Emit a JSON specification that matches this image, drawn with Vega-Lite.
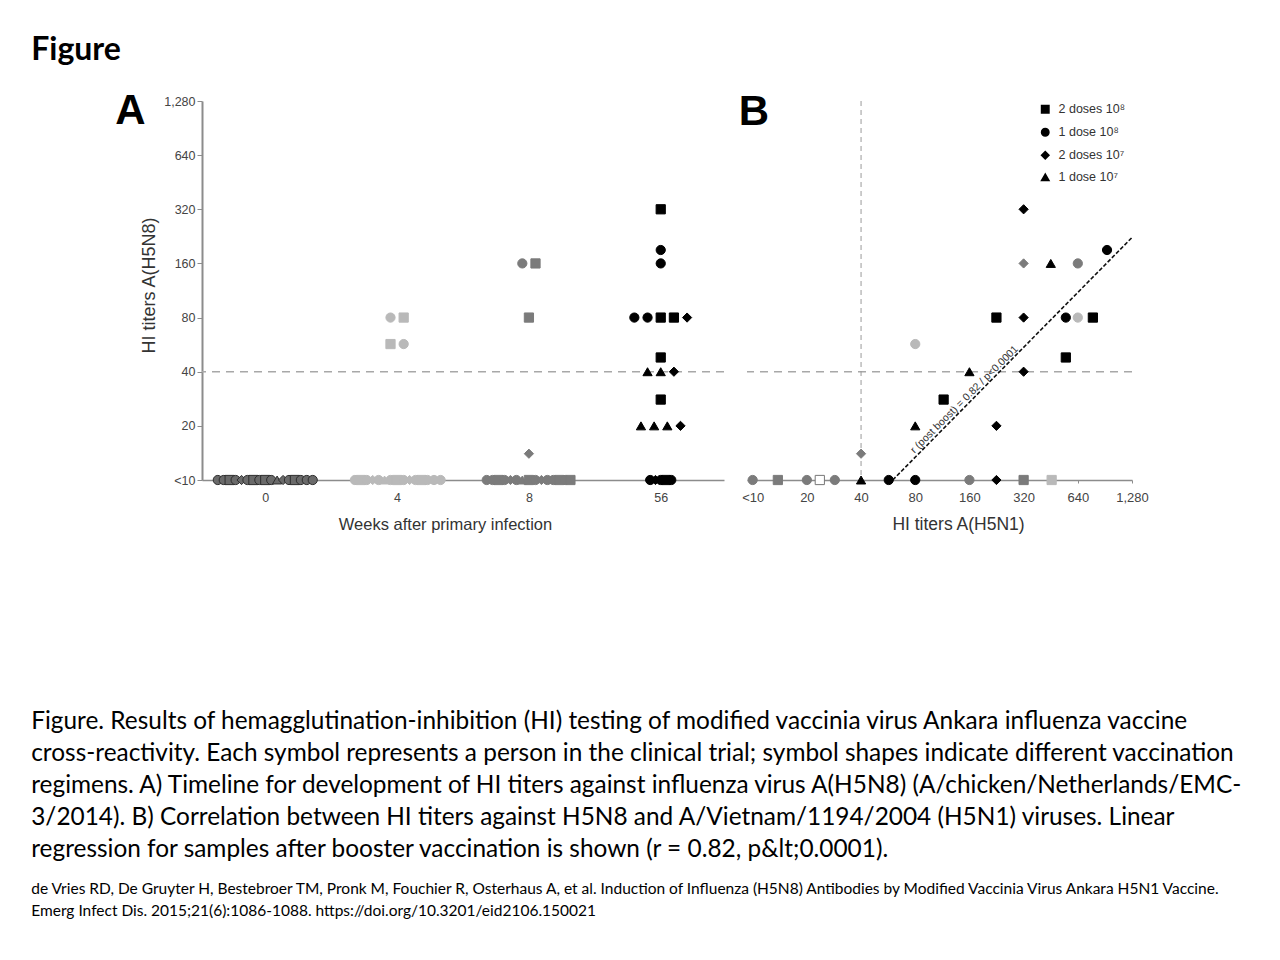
{
  "$schema": "https://vega.github.io/schema/vega-lite/v6.json",
  "background": "white",
  "padding": {"left": 31, "top": 34, "right": 0, "bottom": 0},
  "autosize": {"type": "pad"},
  "title": {"text": "Figure", "anchor": "start", "font": "Lato", "fontSize": 32, "fontWeight": "bold", "color": "#000", "offset": 23},
  "datasets": {
    "A": [
      {"w":"0","xp":-0.36,"v":10,"g":"1 dose 10⁸","t":"0"},
      {"w":"0","xp":-0.315,"v":10,"g":"1 dose 10⁸","t":"0"},
      {"w":"0","xp":-0.27,"v":10,"g":"2 doses 10⁸","t":"0"},
      {"w":"0","xp":-0.225,"v":10,"g":"1 dose 10⁸","t":"0"},
      {"w":"0","xp":-0.18,"v":10,"g":"2 doses 10⁷","t":"0"},
      {"w":"0","xp":-0.135,"v":10,"g":"1 dose 10⁸","t":"0"},
      {"w":"0","xp":-0.09,"v":10,"g":"2 doses 10⁸","t":"0"},
      {"w":"0","xp":-0.045,"v":10,"g":"1 dose 10⁸","t":"0"},
      {"w":"0","xp":0,"v":10,"g":"2 doses 10⁸","t":"0"},
      {"w":"0","xp":0.045,"v":10,"g":"1 dose 10⁸","t":"0"},
      {"w":"0","xp":0.09,"v":10,"g":"1 dose 10⁷","t":"0"},
      {"w":"0","xp":0.135,"v":10,"g":"2 doses 10⁷","t":"0"},
      {"w":"0","xp":0.18,"v":10,"g":"1 dose 10⁸","t":"0"},
      {"w":"0","xp":0.225,"v":10,"g":"2 doses 10⁸","t":"0"},
      {"w":"0","xp":0.27,"v":10,"g":"1 dose 10⁸","t":"0"},
      {"w":"0","xp":0.315,"v":10,"g":"1 dose 10⁸","t":"0"},
      {"w":"0","xp":0.36,"v":10,"g":"1 dose 10⁸","t":"0"},
      {"w":"4","xp":0.68,"v":10,"g":"1 dose 10⁸","t":"4"},
      {"w":"4","xp":0.725,"v":10,"g":"2 doses 10⁸","t":"4"},
      {"w":"4","xp":0.77,"v":10,"g":"1 dose 10⁸","t":"4"},
      {"w":"4","xp":0.815,"v":10,"g":"2 doses 10⁷","t":"4"},
      {"w":"4","xp":0.86,"v":10,"g":"1 dose 10⁸","t":"4"},
      {"w":"4","xp":0.905,"v":10,"g":"1 dose 10⁷","t":"4"},
      {"w":"4","xp":0.95,"v":10,"g":"1 dose 10⁸","t":"4"},
      {"w":"4","xp":1,"v":10,"g":"2 doses 10⁸","t":"4"},
      {"w":"4","xp":1.05,"v":10,"g":"1 dose 10⁸","t":"4"},
      {"w":"4","xp":1.095,"v":10,"g":"2 doses 10⁷","t":"4"},
      {"w":"4","xp":1.14,"v":10,"g":"1 dose 10⁸","t":"4"},
      {"w":"4","xp":1.185,"v":10,"g":"2 doses 10⁸","t":"4"},
      {"w":"4","xp":1.23,"v":10,"g":"1 dose 10⁸","t":"4"},
      {"w":"4","xp":1.28,"v":10,"g":"1 dose 10⁸","t":"4"},
      {"w":"4","xp":1.33,"v":10,"g":"1 dose 10⁸","t":"4"},
      {"w":"4","xp":0.95,"v":80,"g":"1 dose 10⁸","t":"4"},
      {"w":"4","xp":1.05,"v":80,"g":"2 doses 10⁸","t":"4"},
      {"w":"4","xp":0.95,"v":57,"g":"2 doses 10⁸","t":"4"},
      {"w":"4","xp":1.05,"v":57,"g":"1 dose 10⁸","t":"4"},
      {"w":"8","xp":1.68,"v":10,"g":"1 dose 10⁸","t":"8"},
      {"w":"8","xp":1.725,"v":10,"g":"1 dose 10⁸","t":"8"},
      {"w":"8","xp":1.77,"v":10,"g":"2 doses 10⁸","t":"8"},
      {"w":"8","xp":1.815,"v":10,"g":"1 dose 10⁸","t":"8"},
      {"w":"8","xp":1.86,"v":10,"g":"2 doses 10⁷","t":"8"},
      {"w":"8","xp":1.905,"v":10,"g":"1 dose 10⁸","t":"8"},
      {"w":"8","xp":1.95,"v":10,"g":"1 dose 10⁷","t":"8"},
      {"w":"8","xp":2,"v":10,"g":"2 doses 10⁸","t":"8"},
      {"w":"8","xp":2.05,"v":10,"g":"1 dose 10⁸","t":"8"},
      {"w":"8","xp":2.095,"v":10,"g":"2 doses 10⁷","t":"8"},
      {"w":"8","xp":2.14,"v":10,"g":"1 dose 10⁸","t":"8"},
      {"w":"8","xp":2.185,"v":10,"g":"1 dose 10⁸","t":"8"},
      {"w":"8","xp":2.23,"v":10,"g":"2 doses 10⁸","t":"8"},
      {"w":"8","xp":2.275,"v":10,"g":"1 dose 10⁸","t":"8"},
      {"w":"8","xp":2.315,"v":10,"g":"2 doses 10⁸","t":"8"},
      {"w":"8","xp":1.95,"v":160,"g":"1 dose 10⁸","t":"8"},
      {"w":"8","xp":2.05,"v":160,"g":"2 doses 10⁸","t":"8"},
      {"w":"8","xp":2,"v":80,"g":"2 doses 10⁸","t":"8"},
      {"w":"8","xp":2,"v":14,"g":"2 doses 10⁷","t":"8"},
      {"w":"56","xp":2.92,"v":10,"g":"1 dose 10⁸","t":"56"},
      {"w":"56","xp":2.96,"v":10,"g":"2 doses 10⁷","t":"56"},
      {"w":"56","xp":3,"v":10,"g":"1 dose 10⁸","t":"56"},
      {"w":"56","xp":3.04,"v":10,"g":"2 doses 10⁸","t":"56"},
      {"w":"56","xp":3.08,"v":10,"g":"1 dose 10⁸","t":"56"},
      {"w":"56","xp":3,"v":320,"g":"2 doses 10⁸","t":"56"},
      {"w":"56","xp":3,"v":190,"g":"1 dose 10⁸","t":"56"},
      {"w":"56","xp":3,"v":160,"g":"1 dose 10⁸","t":"56"},
      {"w":"56","xp":2.8,"v":80,"g":"1 dose 10⁸","t":"56"},
      {"w":"56","xp":2.9,"v":80,"g":"1 dose 10⁸","t":"56"},
      {"w":"56","xp":3,"v":80,"g":"2 doses 10⁸","t":"56"},
      {"w":"56","xp":3.1,"v":80,"g":"2 doses 10⁸","t":"56"},
      {"w":"56","xp":3.2,"v":80,"g":"2 doses 10⁷","t":"56"},
      {"w":"56","xp":3,"v":48,"g":"2 doses 10⁸","t":"56"},
      {"w":"56","xp":2.9,"v":40,"g":"1 dose 10⁷","t":"56"},
      {"w":"56","xp":3,"v":40,"g":"1 dose 10⁷","t":"56"},
      {"w":"56","xp":3.1,"v":40,"g":"2 doses 10⁷","t":"56"},
      {"w":"56","xp":3,"v":28,"g":"2 doses 10⁸","t":"56"},
      {"w":"56","xp":2.85,"v":20,"g":"1 dose 10⁷","t":"56"},
      {"w":"56","xp":2.95,"v":20,"g":"1 dose 10⁷","t":"56"},
      {"w":"56","xp":3.05,"v":20,"g":"1 dose 10⁷","t":"56"},
      {"w":"56","xp":3.15,"v":20,"g":"2 doses 10⁷","t":"56"}
    ],
    "B": [
      {"x":10,"y":10,"g":"1 dose 10⁸","t":"8"},
      {"x":13.8,"y":10,"g":"2 doses 10⁸","t":"8"},
      {"x":20,"y":10,"g":"1 dose 10⁸","t":"8"},
      {"x":23.6,"y":10,"g":"2 doses 10⁸","t":"open"},
      {"x":28.6,"y":10,"g":"1 dose 10⁸","t":"8"},
      {"x":40,"y":10,"g":"1 dose 10⁷","t":"56"},
      {"x":57,"y":10,"g":"1 dose 10⁸","t":"56"},
      {"x":80,"y":10,"g":"1 dose 10⁸","t":"56"},
      {"x":160,"y":10,"g":"1 dose 10⁸","t":"8"},
      {"x":226,"y":10,"g":"2 doses 10⁷","t":"56"},
      {"x":320,"y":10,"g":"2 doses 10⁸","t":"8"},
      {"x":458,"y":10,"g":"2 doses 10⁸","t":"4"},
      {"x":40,"y":14,"g":"2 doses 10⁷","t":"8"},
      {"x":80,"y":20,"g":"1 dose 10⁷","t":"56"},
      {"x":115,"y":28,"g":"2 doses 10⁸","t":"56"},
      {"x":160,"y":40,"g":"1 dose 10⁷","t":"56"},
      {"x":320,"y":40,"g":"2 doses 10⁷","t":"56"},
      {"x":226,"y":20,"g":"2 doses 10⁷","t":"56"},
      {"x":80,"y":57,"g":"1 dose 10⁸","t":"4"},
      {"x":549,"y":48,"g":"2 doses 10⁸","t":"56"},
      {"x":226,"y":80,"g":"2 doses 10⁸","t":"56"},
      {"x":320,"y":80,"g":"2 doses 10⁷","t":"56"},
      {"x":549,"y":80,"g":"1 dose 10⁸","t":"56"},
      {"x":640,"y":80,"g":"1 dose 10⁸","t":"4"},
      {"x":776,"y":80,"g":"2 doses 10⁸","t":"56"},
      {"x":320,"y":160,"g":"2 doses 10⁷","t":"8"},
      {"x":453,"y":160,"g":"1 dose 10⁷","t":"56"},
      {"x":640,"y":160,"g":"1 dose 10⁸","t":"8"},
      {"x":320,"y":320,"g":"2 doses 10⁷","t":"56"},
      {"x":930,"y":190,"g":"1 dose 10⁸","t":"56"}
    ]
  },
  "vconcat": [
    {
      "title": {
        "text": [
          "Figure. Results of hemagglutination-inhibition (HI) testing of modified vaccinia virus Ankara influenza vaccine",
          "cross-reactivity. Each symbol represents a person in the clinical trial; symbol shapes indicate different vaccination",
          "regimens. A) Timeline for development of HI titers against influenza virus A(H5N8) (A/chicken/Netherlands/EMC-",
          "3/2014). B) Correlation between HI titers against H5N8 and A/Vietnam/1194/2004 (H5N1) viruses. Linear",
          "regression for samples after booster vaccination is shown (r = 0.82, p&lt;0.0001)."
        ],
        "subtitle": [
          "de Vries RD, De Gruyter H, Bestebroer TM, Pronk M, Fouchier R, Osterhaus A, et al. Induction of Influenza (H5N8) Antibodies by Modified Vaccinia Virus Ankara H5N1 Vaccine.",
          "Emerg Infect Dis. 2015;21(6):1086-1088. https://doi.org/10.3201/eid2106.150021"
        ],
        "orient": "bottom",
        "anchor": "start",
        "frame": "bounds",
        "dx": -84,
        "offset": 177,
        "font": "Lato",
        "fontSize": 24.4,
        "fontWeight": "normal",
        "lineHeight": 32,
        "color": "#000",
        "subtitleFont": "Lato",
        "subtitleFontSize": 15.5,
        "subtitleLineHeight": 22,
        "subtitlePadding": 20,
        "subtitleColor": "#000"
      },
      "spacing": 13,
      "resolve": {
        "scale": {"shape": "independent", "fill": "independent", "stroke": "independent"},
        "legend": {"shape": "independent", "fill": "independent", "stroke": "independent"}
      },
      "hconcat": [
        {
          "width": 522,
          "height": 379,
          "title": {"text": "A", "anchor": "start", "frame": "bounds", "font": "Liberation Sans", "fontSize": 42, "fontWeight": "bold", "color": "#000", "dx": -25, "offset": -38},
          "layer": [
            {
              "data": {"values": [{"v": 40}]},
              "mark": {"type": "rule", "color": "#a8a8a8", "strokeDash": [8, 6], "strokeWidth": 1.5},
              "encoding": {
                "y": {"field": "v", "type": "quantitative", "scale": {"type": "log", "base": 2, "domain": [10, 1280]},
                  "axis": {"title": "HI titers A(H5N8)", "values": [10, 20, 40, 80, 160, 320, 640, 1280], "labelExpr": "datum.value < 11 ? '<10' : format(datum.value, ',')", "labelFontSize": 12.5, "titleFontSize": 18, "tickSize": 5, "domainWidth": 2, "titlePadding": 5.5, "titleY": 184}}
              }
            },
            {
              "data": {"name": "A"},
              "mark": {"type": "point", "filled": true, "size": 85, "strokeWidth": 1, "opacity": 1},
              "encoding": {
                "x": {"field": "xp", "type": "quantitative",
                  "scale": {"domain": [-0.48, 3.48], "nice": false, "zero": false},
                  "axis": {"title": "Weeks after primary infection", "values": [0, 1, 2, 3], "labelExpr": "['0','4','8','56'][datum.value]", "labelFontSize": 12.5, "titleFontSize": 16.5, "tickSize": 3, "labelPadding": 8, "titlePadding": 13, "domainWidth": 1.5, "titleX": 243, "labelFlush": false}},
                "y": {"field": "v", "type": "quantitative",
                  "scale": {"type": "log", "base": 2, "domain": [10, 1280]},
                  "axis": {"title": "HI titers A(H5N8)", "values": [10, 20, 40, 80, 160, 320, 640, 1280], "labelExpr": "datum.value < 11 ? '<10' : format(datum.value, ',')", "labelFontSize": 12.5, "titleFontSize": 18, "tickSize": 5, "domainWidth": 2, "titlePadding": 5.5, "titleY": 184}},
                "shape": {"field": "g", "type": "nominal", "scale": {"domain": ["2 doses 10⁸", "1 dose 10⁸", "2 doses 10⁷", "1 dose 10⁷"], "range": ["square", "circle", "diamond", "triangle-up"]}, "legend": null},
                "fill": {"field": "t", "type": "nominal", "scale": {"domain": ["0", "4", "8", "56", "open"], "range": ["#6a6a6a", "#b9b9b9", "#7b7b7b", "#000000", "#ffffff"]}, "legend": null},
                "stroke": {"field": "t", "type": "nominal", "scale": {"domain": ["0", "4", "8", "56", "open"], "range": ["#2e2e2e", "#b9b9b9", "#7b7b7b", "#000000", "#777777"]}, "legend": null}
              }
            }
          ]
        },
        {
          "width": 385,
          "height": 379,
          "title": {"text": "B", "anchor": "start", "frame": "bounds", "font": "Liberation Sans", "fontSize": 42, "fontWeight": "bold", "color": "#000", "dx": -3, "offset": -33},
          "layer": [
            {
              "data": {"values": [{"y": 40}]},
              "mark": {"type": "rule", "color": "#a8a8a8", "strokeDash": [8, 6], "strokeWidth": 1.5},
              "encoding": {
                "y": {"field": "y", "type": "quantitative", "scale": {"type": "log", "base": 2, "domain": [10, 1280]}, "axis": null}
              }
            },
            {
              "data": {"values": [{"x": 40}]},
              "mark": {"type": "rule", "color": "#9a9a9a", "strokeDash": [5, 4], "strokeWidth": 1},
              "encoding": {
                "x": {"field": "x", "type": "quantitative", "scale": {"type": "log", "base": 2, "domain": [9.3, 1280]},
                  "axis": {"title": "HI titers A(H5N1)", "values": [10, 20, 40, 80, 160, 320, 640, 1280], "labelExpr": "datum.value < 11 ? '<10' : format(datum.value, ',')", "labelFontSize": 13, "titleFontSize": 17.5, "tickSize": 3, "labelPadding": 8, "titlePadding": 11, "domainWidth": 1.5, "titleX": 211, "labelFlush": false}}
              }
            },
            {
              "data": {"values": [{"x": 60, "y": 10}, {"x": 1280, "y": 223}]},
              "mark": {"type": "line", "color": "#111", "strokeDash": [4, 2], "strokeWidth": 1.6},
              "encoding": {
                "x": {"field": "x", "type": "quantitative", "scale": {"type": "log", "base": 2, "domain": [9.3, 1280]},
                  "axis": {"title": "HI titers A(H5N1)", "values": [10, 20, 40, 80, 160, 320, 640, 1280], "labelExpr": "datum.value < 11 ? '<10' : format(datum.value, ',')", "labelFontSize": 13, "titleFontSize": 17.5, "tickSize": 3, "labelPadding": 8, "titlePadding": 11, "domainWidth": 1.5, "titleX": 211, "labelFlush": false}},
                "y": {"field": "y", "type": "quantitative", "scale": {"type": "log", "base": 2, "domain": [10, 1280]}, "axis": null}
              }
            },
            {
              "data": {"values": [{"x": 150, "y": 28, "label": "r (post boost) = 0.82 / p<0.0001"}]},
              "mark": {"type": "text", "angle": 315, "font": "Liberation Sans", "fontSize": 10.5, "color": "#333", "align": "center", "baseline": "middle"},
              "encoding": {
                "x": {"field": "x", "type": "quantitative", "scale": {"type": "log", "base": 2, "domain": [9.3, 1280]},
                  "axis": {"title": "HI titers A(H5N1)", "values": [10, 20, 40, 80, 160, 320, 640, 1280], "labelExpr": "datum.value < 11 ? '<10' : format(datum.value, ',')", "labelFontSize": 13, "titleFontSize": 17.5, "tickSize": 3, "labelPadding": 8, "titlePadding": 11, "domainWidth": 1.5, "titleX": 211, "labelFlush": false}},
                "y": {"field": "y", "type": "quantitative", "scale": {"type": "log", "base": 2, "domain": [10, 1280]}, "axis": null},
                "text": {"field": "label", "type": "nominal"}
              }
            },
            {
              "data": {"name": "B"},
              "mark": {"type": "point", "filled": true, "size": 85, "strokeWidth": 1, "opacity": 1},
              "encoding": {
                "x": {"field": "x", "type": "quantitative",
                  "scale": {"type": "log", "base": 2, "domain": [9.3, 1280]},
                  "axis": {"title": "HI titers A(H5N1)", "values": [10, 20, 40, 80, 160, 320, 640, 1280], "labelExpr": "datum.value < 11 ? '<10' : format(datum.value, ',')", "labelFontSize": 13, "titleFontSize": 17.5, "tickSize": 3, "labelPadding": 8, "titlePadding": 11, "domainWidth": 1.5, "titleX": 211, "labelFlush": false}},
                "y": {"field": "y", "type": "quantitative", "scale": {"type": "log", "base": 2, "domain": [10, 1280]}, "axis": null},
                "shape": {"field": "g", "type": "nominal",
                  "scale": {"domain": ["2 doses 10⁸", "1 dose 10⁸", "2 doses 10⁷", "1 dose 10⁷"], "range": ["square", "circle", "diamond", "triangle-up"]},
                  "legend": {"orient": "none", "legendX": 292, "legendY": 2, "title": null, "labelFont": "Liberation Sans", "labelFontSize": 12.5, "labelColor": "#333", "symbolFillColor": "#000", "symbolStrokeColor": "#000", "symbolSize": 55, "rowPadding": 9, "labelOffset": 7}},
                "fill": {"field": "t", "type": "nominal", "scale": {"domain": ["0", "4", "8", "56", "open"], "range": ["#6a6a6a", "#b9b9b9", "#7b7b7b", "#000000", "#ffffff"]}, "legend": null},
                "stroke": {"field": "t", "type": "nominal", "scale": {"domain": ["0", "4", "8", "56", "open"], "range": ["#2e2e2e", "#b9b9b9", "#7b7b7b", "#000000", "#777777"]}, "legend": null}
              }
            }
          ]
        }
      ]
    }
  ],
  "config": {
    "view": {"stroke": null},
    "axis": {"grid": false, "labelFont": "Liberation Sans", "titleFont": "Liberation Sans", "labelColor": "#444", "titleColor": "#333", "domainColor": "#8c8c8c", "tickColor": "#8c8c8c", "titleFontWeight": "normal"}
  }
}
